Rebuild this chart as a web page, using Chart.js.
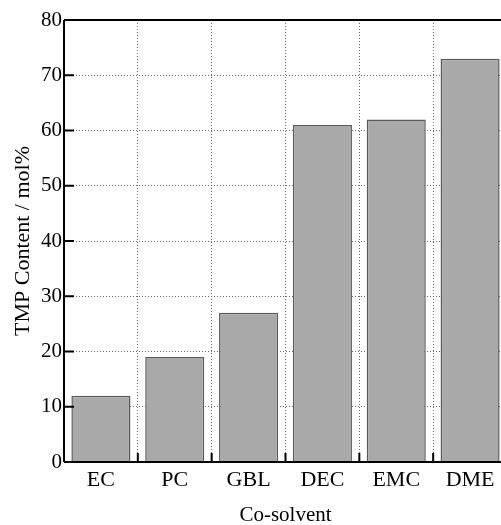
<!DOCTYPE html>
<html>
<head>
<meta charset="utf-8">
<script src="https://cdn.jsdelivr.net/npm/chart.js@4/dist/chart.umd.min.js"></script>
<style>
  html, body { margin: 0; padding: 0; background: #fff; overflow: hidden; }
  #wrap { width: 501px; height: 525px; overflow: hidden; }
  canvas { display: block; }
</style>
</head>
<body>
<div id="wrap"><canvas id="c" width="510" height="525"></canvas></div>
<script>
// Co-solvents and their TMP content (mol%)
const categories = ['EC', 'PC', 'GBL', 'DEC', 'EMC', 'DME'];
const tmpContent = [12, 19, 27, 61, 62, 73];
const yTicks = [0, 10, 20, 30, 40, 50, 60, 70, 80];

const serif = '"Liberation Serif", "Times New Roman", serif';

// Frame and inward tick marks
const framePlugin = {
  id: 'frame',
  afterDatasetsDraw(chart) {
    const { ctx, chartArea: a, scales: { x, y } } = chart;
    ctx.save();
    ctx.strokeStyle = '#000';
    ctx.lineWidth = 2;
    ctx.beginPath();
    ctx.moveTo(a.left, a.top); ctx.lineTo(a.right, a.top);
    ctx.moveTo(a.left, a.top); ctx.lineTo(a.left, a.bottom);
    ctx.moveTo(a.left, a.bottom); ctx.lineTo(a.right, a.bottom);
    // y ticks pointing into the plot
    yTicks.forEach(v => {
      if (v === 0 || v === 80) return;
      const py = y.getPixelForValue(v);
      ctx.moveTo(a.left, py); ctx.lineTo(a.left + 10, py);
    });
    // x ticks at category boundaries
    for (let i = 0; i < categories.length - 1; i++) {
      const px = (x.getPixelForValue(i) + x.getPixelForValue(i + 1)) / 2;
      ctx.moveTo(px, a.bottom); ctx.lineTo(px, a.bottom - 9);
    }
    ctx.stroke();
    ctx.restore();
  }
};

new Chart(document.getElementById('c'), {
  type: 'bar',
  data: {
    labels: categories,
    datasets: [{
      data: tmpContent,
      backgroundColor: '#a9a9a9',
      borderColor: '#5a5a5a',
      borderWidth: 1.5,
      borderSkipped: 'bottom',
      barPercentage: 0.8,
      categoryPercentage: 1.0
    }]
  },
  options: {
    responsive: false,
    animation: false,
    layout: { padding: { top: 20, right: 3, left: 0, bottom: 0 } },
    plugins: { legend: { display: false }, tooltip: { enabled: false } },
    scales: {
      x: {
        offset: true,
        grid: {
          offset: true,
          drawTicks: false,
          color: '#666',
          lineWidth: 1
        },
        border: { display: false, dash: [1, 2] },
        ticks: { color: '#000', font: { family: serif, size: 22 }, padding: 5, maxRotation: 0 },
        title: {
          display: true,
          text: 'Co-solvent',
          color: '#000',
          font: { family: serif, size: 21 },
          padding: { top: 0, bottom: -3 }
        },
        afterFit(scale) { scale.height = 63; }
      },
      y: {
        min: 0,
        max: 80,
        afterBuildTicks(scale) { scale.ticks = yTicks.map(v => ({ value: v })); },
        grid: {
          drawTicks: false,
          color: ctx => (ctx.tick && (ctx.tick.value === 0 || ctx.tick.value === 80)) ? 'rgba(0,0,0,0)' : '#666',
          lineWidth: 1
        },
        border: { display: false, dash: [1, 2] },
        ticks: { color: '#000', font: { family: serif, size: 21 }, padding: 2 },
        title: {
          display: true,
          text: 'TMP Content / mol%',
          color: '#000',
          font: { family: serif, size: 22 },
          padding: { top: 10, bottom: 0 }
        },
        afterFit(scale) { scale.width = 64; }
      }
    }
  },
  plugins: [framePlugin]
});
</script>
</body>
</html>
